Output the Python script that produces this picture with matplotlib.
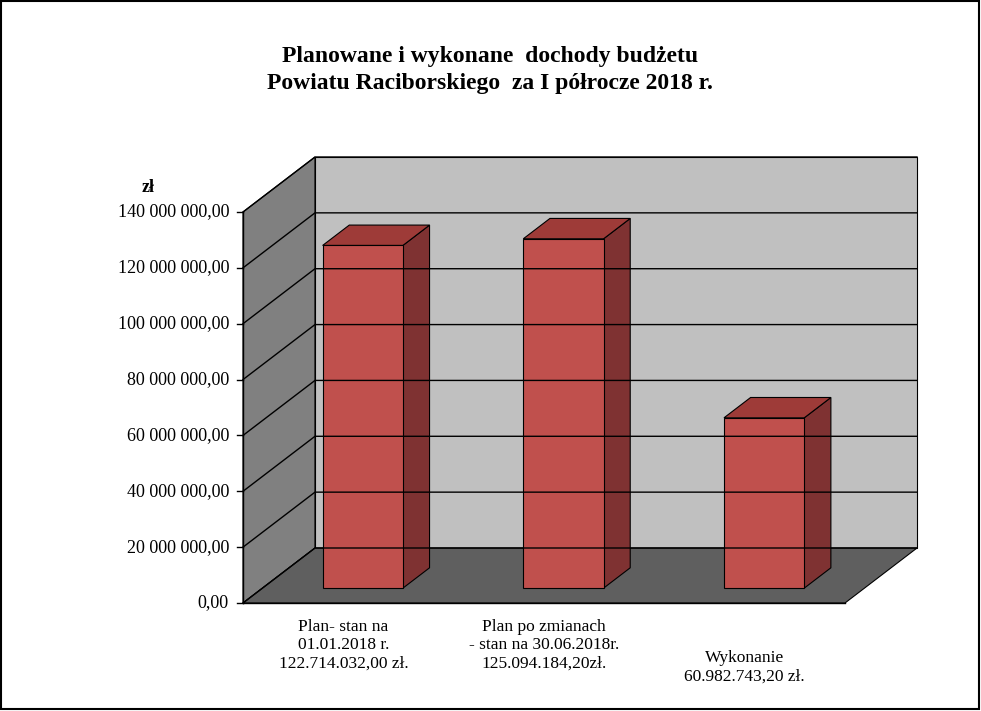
import matplotlib
matplotlib.use("Agg")
import matplotlib.pyplot as plt
from matplotlib.patches import Polygon, Rectangle

categories = ["Plan- stan na\n01.01.2018 r.\n122.714.032,00 zł.",
              "Plan po zmianach\n- stan na 30.06.2018r.\n125.094.184,20zł.",
              "Wykonanie\n60.982.743,20 zł."]
values = [122714032.00, 125094184.20, 60982743.20]
ticks = [0, 20e6, 40e6, 60e6, 80e6, 100e6, 120e6, 140e6]
title = "Planowane i wykonane  dochody budżetu\nPowiatu Raciborskiego  za I półrocze 2018 r."

W, H = 981, 711
fig = plt.figure(figsize=(W/100, H/100), dpi=100)
ax = fig.add_axes([0, 0, 1, 1])
ax.set_xlim(0, W); ax.set_ylim(H, 0); ax.axis("off")
serif = "Liberation Serif"

X0, X1, Y0 = 243, 845, 603
DX, DY = 72, -55
VMAX, HPX = 140e6, 391

def P(xf, v, d):
    return (X0 + xf*(X1-X0) + DX*d, Y0 + DY*d - v/VMAX*HPX)

ax.add_patch(Rectangle((1, 1), W-3, H-3, fill=False, ec="black", lw=1.5))
# walls
ax.add_patch(Polygon([P(0,0,0), P(0,VMAX,0), P(0,VMAX,1), P(0,0,1)], fc="#808080", ec="black", lw=0.8))
ax.add_patch(Polygon([P(0,0,1), P(1,0,1), P(1,VMAX,1), P(0,VMAX,1)], fc="#c0c0c0", ec="black", lw=0.8))
ax.add_patch(Polygon([P(0,0,0), P(1,0,0), P(1,0,1), P(0,0,1)], fc="#5f5f5f", ec="black", lw=0.8))
for t in ticks:
    ax.plot(*zip(P(0,t,0), P(0,t,1), P(1,t,1)), color="black", lw=1)
    x, y = P(0,t,0)
    ax.plot([x-6, x], [y, y], color="black", lw=1)
    ax.text(x-14, y, f"{int(t):,}".replace(",", " ") + ",00", ha="right", va="center",
            fontsize=13, family=serif)
ax.plot(*zip(P(0,0,0), P(0,VMAX,0)), color="black", lw=1)
ax.plot(*zip(P(0,0,0), P(1,0,0)), color="black", lw=1)
ax.text(148, 188, "zł", fontsize=13, family=serif, weight="bold", ha="center", va="center")

d0, d1 = 0.27, 0.64
bw = 0.4/3
for i, v in enumerate(values):
    c = (i + 0.5)/3
    a, b = c - bw/2, c + bw/2
    ax.add_patch(Polygon([P(b,0,d0), P(b,0,d1), P(b,v,d1), P(b,v,d0)], fc="#7f3232", ec="black", lw=0.8))
    ax.add_patch(Polygon([P(a,v,d0), P(b,v,d0), P(b,v,d1), P(a,v,d1)], fc="#9e3b38", ec="black", lw=0.8))
    ax.add_patch(Polygon([P(a,0,d0), P(b,0,d0), P(b,v,d0), P(a,v,d0)], fc="#c0504d", ec="black", lw=0.8))
    x, y = P(c, 0, 0)
    ax.text(x, 645 if i < 2 else 667, categories[i], ha="center", va="center",
            fontsize=12.5, family=serif, linespacing=1.2)

ax.text(490, 70, title, ha="center", va="center", fontsize=17, family=serif,
        weight="bold", linespacing=1.4)
fig.savefig("out.png", dpi=100)
